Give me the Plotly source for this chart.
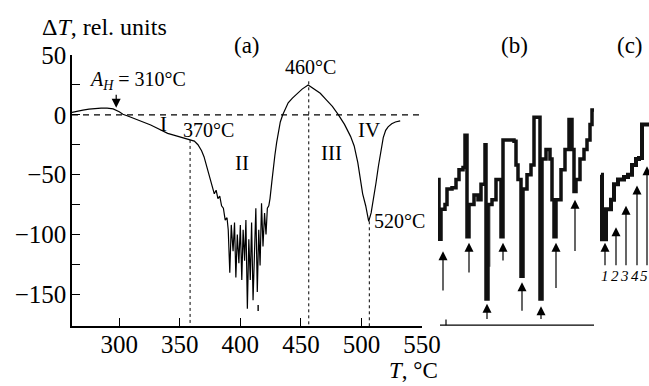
import plotly.graph_objects as go

# ---- main DTA curve (panel a) ----
T = [261, 265, 270, 275, 280, 285, 290, 295, 300, 303, 307, 311, 316, 321, 326, 331, 336, 340, 345,
     350, 355, 358, 362, 365, 368, 370, 372, 374, 376,
     377.0, 378.5, 380.0, 381.5, 383.0, 384.5, 386.0, 387.5, 389.0, 390.0, 391.3, 392.5, 394.0, 395.2,
     396.3, 397.5, 398.8, 400.0, 401.2, 402.3, 403.5, 404.6, 405.8, 407.0, 408.2, 409.3, 410.5, 411.7,
     412.8, 414.0, 415.2, 416.3, 417.5, 418.7, 420.0, 421.2, 422.3, 423.5,
     424.5, 426.0, 427.0, 428.5, 430.0, 431.5, 433.0,
     435.0, 437.0, 439.5, 443.0, 447.0, 451.0, 456.0, 461.0, 466.0, 471.0, 476.0, 481.0, 486.0, 491.0,
     494.0, 497.0, 499.0, 501.0, 503.5, 506.0, 508.0, 510.0, 512.0, 514.0, 516.0, 518.0, 520.0, 522.0,
     525.0, 528.0, 532.0]
DT = [2, 3, 4, 4.8, 5.3, 5.6, 5.6, 5, 2.5, 0.5, -1, -2.5, -4.5, -6.5, -8.5, -11, -13.5, -15.5, -17,
      -18.5, -19.5, -20.5, -22, -25, -30, -35, -42, -50, -58,
      -60, -66, -63, -70, -68, -76, -78, -88, -86, -96, -132, -92, -114, -90,
      -136, -100, -124, -92, -138, -96, -122, -88, -162, -104, -138, -90, -155, -100,
      -78, -148, -96, -126, -74, -110, -82, -100, -78, -76,
      -70, -56, -46, -34, -23, -14, -6,
      0, 5, 10, 14, 18, 21.5, 25, 21.5, 18, 12.5, 7, 0, -8, -18,
      -26, -40, -55, -66, -76, -89, -82, -71, -57, -43, -30, -19, -13, -10,
      -7.5, -6, -5]
dot_T = [414.7, 414.7]
dot_V = [-159, -164]

# characteristic temperatures (dotted verticals)
mark_T = [358.5, 456.5, 506.5]
mark_V = [-21, 28, -89]

x_ticks = [300, 350, 400, 450, 500, 550]
y_ticks = [50, 25, 0, -25, -50, -75, -100, -125, -150]
y_tick_text = ["50", "", "0", "", "\u221250", "", "\u2212100", "", "\u2212150"]

# ---- panel (b) and (c): magnified step traces (sample index, rel. units) ----
b_idx = [0, 1, 3, 7, 9, 14, 18, 21, 25, 27, 29, 31, 36, 40, 43, 47, 48, 50, 54, 58, 63, 65, 76, 78,
         80, 83, 85, 89, 93, 96, 102, 104, 108, 112, 114, 116, 118, 123, 127, 131, 134, 136, 138,
         142, 146, 149, 152, 154, 156]
b_val = [-54, -104, -79, -75, -62, -61, -54, -46, -44, -17, -102, -75, -67, -71, -58, -25, -154, -75,
         -71, -54, -102, -21, -22, -42, -54, -135, -62, -50, -42, -2, -154, -37, -29, -37, -71, -102,
         -71, -46, -29, -4, -29, -64, -54, -37, -29, -21, -8, 4, 4]
b_gray_idx = [51, 51]
b_gray_val = [-75, -127]
c_idx = [163, 164, 168, 173, 176, 180, 186, 190, 194, 198, 201, 204, 211]
c_val = [-50, -104, -79, -71, -58, -54, -52, -50, -42, -37, -36, -8, -7]

b_arrow_x = [5, 31, 49, 65, 84, 103, 118, 137]
b_arrow_tip = [-114, -107, -158, -107, -140, -160, -107, -71]
b_arrow_tail = [-148, -133, -172, -123, -165, -172, -146, -115]
c_arrow_x = [167, 178, 188, 199, 209]
c_arrow_tip = [-107, -94, -76, -59, -43]
c_arrow_tail = [-127, -127, -127, -127, -127]
c_labels = ["1", "2", "3", "4", "5"]
c_label_x = [166.5, 176.5, 186.5, 196.5, 206]

FONT = "Liberation Serif"

fig = go.Figure()
fig.add_trace(go.Scatter(x=T, y=DT, mode="lines", line=dict(color="black", width=1.2),
                         showlegend=False, hoverinfo="skip"))
fig.add_trace(go.Scatter(x=dot_T, y=dot_V, mode="lines", line=dict(color="black", width=1.4),
                         showlegend=False, hoverinfo="skip"))
fig.add_trace(go.Scatter(x=b_gray_idx, y=b_gray_val, mode="lines", line=dict(color="#777", width=3),
                         xaxis="x2", yaxis="y", showlegend=False, hoverinfo="skip"))
fig.add_trace(go.Scatter(x=b_idx, y=b_val, mode="lines", line=dict(color="#111", width=3.5, shape="hv"),
                         xaxis="x2", yaxis="y", showlegend=False, hoverinfo="skip"))
fig.add_trace(go.Scatter(x=c_idx, y=c_val, mode="lines", line=dict(color="#111", width=4, shape="hv"),
                         xaxis="x2", yaxis="y", showlegend=False, hoverinfo="skip"))

shapes = []
shapes.append(dict(type="line", xref="x", yref="y", x0=T[0], x1=550, y0=0, y1=0,
                   line=dict(color="black", width=1.2, dash="6px,5px")))
for t, v in zip(mark_T, mark_V):
    shapes.append(dict(type="line", xref="x", yref="y", x0=t, x1=t, y0=v, y1=-176.5,
                       line=dict(color="black", width=1, dash="dot")))
shapes.append(dict(type="line", xref="x2", yref="y", x0=2, x1=156, y0=-175.8, y1=-175.8,
                   line=dict(color="black", width=1.4)))
shapes.append(dict(type="line", xref="x2", yref="y", x0=8, x1=8, y0=-175.8, y1=-171,
                   line=dict(color="black", width=1.2)))

ann = []
def txt(x, y, s, size=20, xref="x", yref="y", xanchor="center", italic=False):
    ann.append(dict(x=x, y=y, xref=xref, yref=yref, text=s, showarrow=False, xanchor=xanchor,
                    yanchor="middle", font=dict(family=FONT, size=size, color="black",
                                                style="italic" if italic else "normal")))

txt(0.0616, 0.930, "\u0394<i>T</i>, rel. units", size=24, xref="paper", yref="paper", xanchor="left")
txt(0.637, 0.039, "<i>T</i>, \u00b0C", size=23, xref="paper", yref="paper")
txt(0.3806, 0.8834, "(a)", size=23, xref="paper", yref="paper")
txt(0.792, 0.8834, "(b)", size=23, xref="paper", yref="paper")
txt(0.9707, 0.8834, "(c)", size=23, xref="paper", yref="paper")
txt(273.4, 29, "<i>A</i><sub><i>H</i></sub> = 310\u00b0C", size=20, xanchor="left")
txt(457.7, 40, "460\u00b0C", size=20)
txt(373.4, -12.5, "370\u00b0C", size=20)
txt(509, -89, "520\u00b0C", size=20, xanchor="left")
txt(336.2, -8, "I", size=21)
txt(401.5, -40, "II", size=21)
txt(475, -32, "III", size=21)
txt(506.5, -12.5, "IV", size=21)
for xi, lab in zip(c_label_x, c_labels):
    txt(xi, -135, lab, size=15, xref="x2", italic=True)

def arrow(x, tip, tail, xref):
    ann.append(dict(x=x, y=tip, ax=x, ay=tail, xref=xref, yref="y", axref=xref, ayref="y",
                    showarrow=True, arrowhead=2, arrowsize=1.5, arrowwidth=1.2, arrowcolor="black",
                    text=""))

arrow(297.5, 6, 18, "x")
for x, a, b in zip(b_arrow_x, b_arrow_tip, b_arrow_tail):
    arrow(x, a, b, "x2")
for x, a, b in zip(c_arrow_x, c_arrow_tip, c_arrow_tail):
    arrow(x, a, b, "x2")

fig.update_layout(
    width=649, height=386, margin=dict(l=0, r=0, t=0, b=0, autoexpand=False),
    paper_bgcolor="white", plot_bgcolor="white",
    font=dict(family=FONT, color="black"),
    shapes=shapes, annotations=ann,
    xaxis=dict(domain=[72 / 649, 422 / 649], range=[261, 550], showgrid=False, zeroline=False,
               automargin=False,
               showline=True, linecolor="black", linewidth=1.5, ticks="inside", ticklen=8,
               tickwidth=1.2, tickcolor="black", tickvals=x_ticks, ticklabelstandoff=-5,
               ticktext=[str(v) for v in x_ticks], tickfont=dict(family=FONT, size=25, color="black")),
    yaxis=dict(domain=[1 - 326 / 386, 1 - 55 / 386], range=[-176.5, 50], showgrid=False,
               zeroline=False, showline=True, linecolor="black", linewidth=1.5, ticks="inside",
               automargin=False,
               ticklen=8, tickwidth=1.2, tickcolor="black", tickvals=y_ticks, ticktext=y_tick_text,
               ticklabelstandoff=-1, tickfont=dict(family=FONT, size=25, color="black")),
    xaxis2=dict(domain=[438 / 649, 1.0], range=[0, 211], anchor="y", visible=False,
                automargin=False),
)

fig.write_html("out.html", config={"displayModeBar": False},
               post_script="document.body.style.margin='0';document.body.style.overflow='hidden';")
